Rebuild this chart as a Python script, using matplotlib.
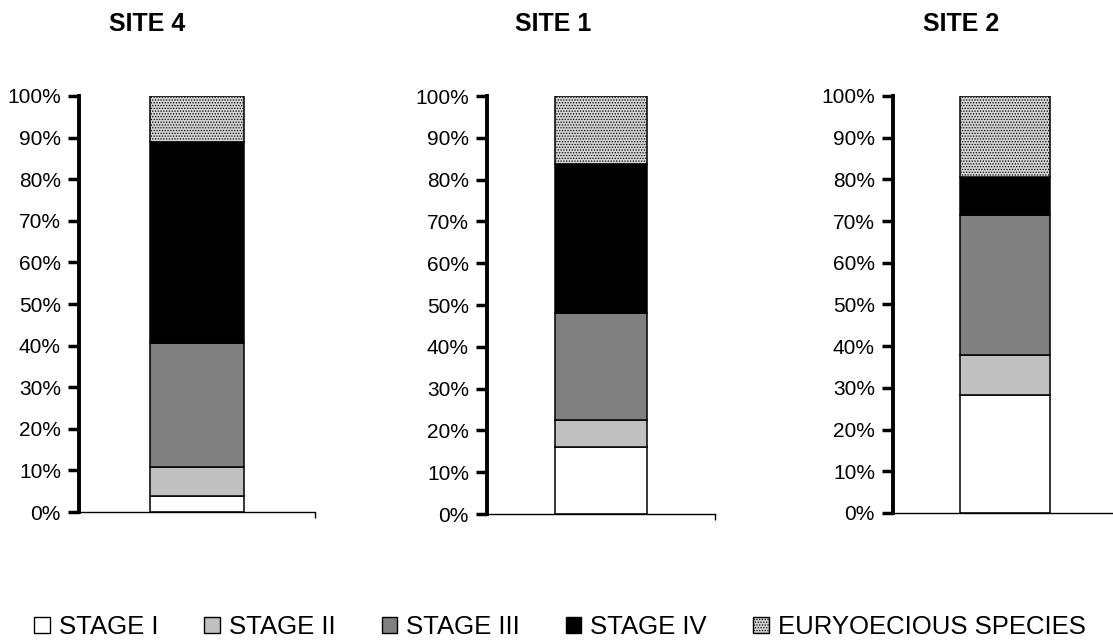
import matplotlib
matplotlib.use('Agg')
from matplotlib import pyplot as plt
from matplotlib.patches import Patch
from matplotlib.ticker import PercentFormatter

# Data (percent of each stage per site) #
sites = ['SITE 4', 'SITE 1', 'SITE 2']
stages = ['STAGE I', 'STAGE II', 'STAGE III', 'STAGE IV', 'EURYOECIOUS SPECIES']
stage_1 = [3.9, 16.1, 28.3]
stage_2 = [6.9, 6.3, 9.5]
stage_3 = [29.8, 25.6, 33.6]
stage_4 = [48.4, 35.7, 9.2]
euryoecious = [11.0, 16.3, 19.4]

colors = ['white', '#c0c0c0', '#808080', 'black', '#d4d4d4']
hatches = [None, None, None, None, '......']

plt.rcParams['font.family'] = ['Liberation Sans', 'DejaVu Sans']
plt.rcParams['hatch.linewidth'] = 0.6
plt.rcParams['hatch.color'] = '#6a6a6a'

fig = plt.figure(figsize=(11.13, 6.43), dpi=100)

# Axes boxes in figure fractions #
boxes = [
    [0.071, 0.2037, 0.212, 0.647],
    [0.4376, 0.2006, 0.2049, 0.650],
    [0.8023, 0.2022, 0.2013, 0.6485],
]
title_x = [0.1325, 0.497, 0.8635]

series = [stage_1, stage_2, stage_3, stage_4, euryoecious]

for i, box in enumerate(boxes):
    ax = fig.add_axes(box)
    bottom = 0
    for j, vals in enumerate(series):
        ax.bar(0, vals[i], width=0.4, bottom=bottom, color=colors[j],
               edgecolor='black', linewidth=1.1, hatch=hatches[j])
        bottom += vals[i]
    ax.set_xlim(-0.5, 0.5)
    ax.set_ylim(0, 100)
    ax.set_yticks(range(0, 101, 10))
    ax.yaxis.set_major_formatter(PercentFormatter(decimals=0))
    ax.tick_params(axis='y', direction='out', length=8, width=2.5,
                   labelsize=15, pad=5)
    ax.set_xticks([0.5])
    ax.set_xticklabels([])
    ax.tick_params(axis='x', direction='out', length=4, width=1)
    ax.spines['top'].set_visible(False)
    ax.spines['right'].set_visible(False)
    ax.spines['left'].set_linewidth(2.8)
    ax.spines['bottom'].set_linewidth(1.0)
    fig.text(title_x[i], 0.962, sites[i], ha='center', va='center',
             fontsize=18, fontweight='bold')

handles = [Patch(facecolor=colors[k], edgecolor='black', hatch=hatches[k],
                 linewidth=1) for k in range(5)]
fig.legend(handles, stages, loc='center', bbox_to_anchor=(0.503, 0.025),
           ncol=5, frameon=False, fontsize=18.5, handlelength=0.6,
           handleheight=0.6, handletextpad=0.35, columnspacing=1.8)

fig.savefig('out.png', dpi=100)
